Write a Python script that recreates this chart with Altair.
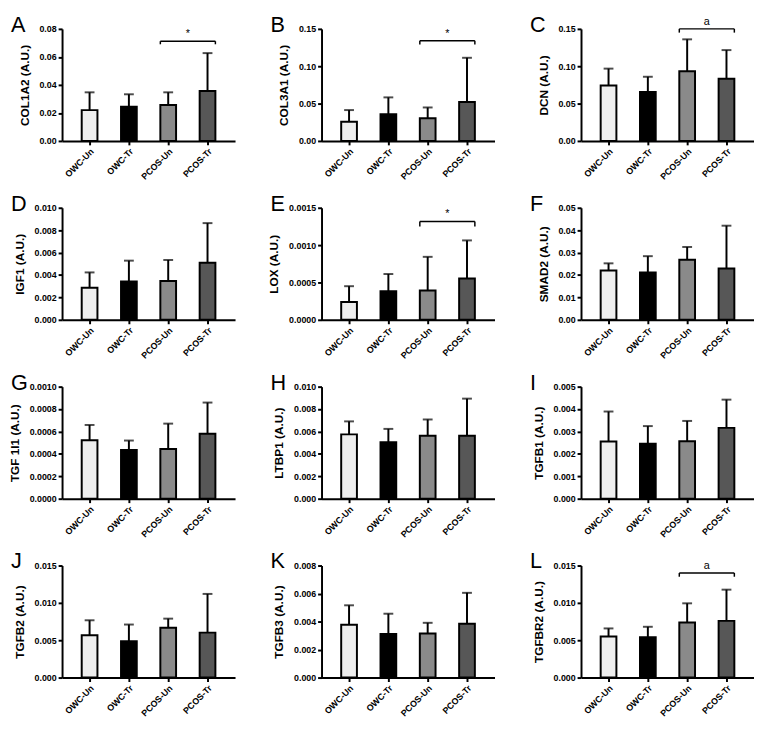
import altair as alt
import pandas as pd

groups = ["OWC-Un", "OWC-Tr", "PCOS-Un", "PCOS-Tr"]
fills = ["#eeeeee", "#000000", "#8a8a8a", "#575757"]

letters = ["A", "B", "C", "D", "E", "F", "G", "H", "I", "J", "K", "L"]
genes = ["COL1A2", "COL3A1", "DCN", "IGF1", "LOX", "SMAD2",
         "TGF 1I1", "LTBP1", "TGFB1", "TGFB2", "TGFB3", "TGFBR2"]

# mean values (bar heights) and upper error bar ends
col1a2_mean = [0.0220, 0.0245, 0.0257, 0.0356]
col1a2_upper = [0.0347, 0.0333, 0.0347, 0.0627]
col3a1_mean = [0.0257, 0.0357, 0.0304, 0.0522]
col3a1_upper = [0.0413, 0.0583, 0.0448, 0.1113]
dcn_mean = [0.0741, 0.0654, 0.0933, 0.0833]
dcn_upper = [0.0968, 0.0859, 0.1360, 0.1216]
igf1_mean = [0.00286, 0.00341, 0.00347, 0.00510]
igf1_upper = [0.00423, 0.00528, 0.00534, 0.00863]
lox_mean = [0.000238, 0.000384, 0.000393, 0.000552]
lox_upper = [0.000450, 0.000613, 0.000843, 0.001063]
smad2_mean = [0.0220, 0.0211, 0.0268, 0.0229]
smad2_upper = [0.0252, 0.0284, 0.0325, 0.0420]
tgf1i1_mean = [0.000522, 0.000435, 0.000443, 0.000580]
tgf1i1_upper = [0.000658, 0.000519, 0.000670, 0.000858]
ltbp1_mean = [0.00574, 0.00504, 0.00562, 0.00562]
ltbp1_upper = [0.00690, 0.00623, 0.00707, 0.00893]
tgfb1_mean = [0.00255, 0.00245, 0.00256, 0.00316]
tgfb1_upper = [0.00389, 0.00324, 0.00347, 0.00442]
tgfb2_mean = [0.00567, 0.00488, 0.00667, 0.00602]
tgfb2_upper = [0.00767, 0.00710, 0.00789, 0.01120]
tgfb3_mean = [0.00377, 0.00312, 0.00314, 0.00384]
tgfb3_upper = [0.00516, 0.00456, 0.00391, 0.00605]
tgfbr2_mean = [0.00549, 0.00541, 0.00737, 0.00759]
tgfbr2_upper = [0.00658, 0.00680, 0.00994, 0.01177]

means = [col1a2_mean, col3a1_mean, dcn_mean, igf1_mean, lox_mean, smad2_mean,
         tgf1i1_mean, ltbp1_mean, tgfb1_mean, tgfb2_mean, tgfb3_mean, tgfbr2_mean]
uppers = [col1a2_upper, col3a1_upper, dcn_upper, igf1_upper, lox_upper, smad2_upper,
          tgf1i1_upper, ltbp1_upper, tgfb1_upper, tgfb2_upper, tgfb3_upper, tgfbr2_upper]

y_max = [0.08, 0.15, 0.15, 0.010, 0.0015, 0.05, 0.0010, 0.010, 0.005, 0.015, 0.008, 0.015]
y_step = [0.02, 0.05, 0.05, 0.002, 0.0005, 0.01, 0.0002, 0.002, 0.001, 0.005, 0.002, 0.005]
y_fmt = [".2f", ".2f", ".2f", ".3f", ".4f", ".2f", ".4f", ".3f", ".3f", ".3f", ".3f", ".3f"]

# significance brackets
bracket_panels = [0, 1, 2, 4, 11]
bracket_top = [0.0712, 0.134, 0.150, 0.001315, 0.0140]
bracket_drop = [0.0690, 0.129, 0.145, 0.00125, 0.0135]
bracket_label = ["*", "*", "a", "*", "a"]
bracket_label_y = [0.0730, 0.137, 0.1525, 0.00135, 0.0143]

W, H = 176, 114


def panel(i):
    df = pd.DataFrame({"group": groups, "mean": means[i], "upper": uppers[i]})
    n = int(round(y_max[i] / y_step[i]))
    ticks = [round(k * y_step[i], 6) for k in range(n + 1)]
    xscale = alt.Scale(domain=groups, paddingInner=0.6, paddingOuter=0.5)
    xaxis = alt.Axis(title=None, labelAngle=-45)
    yscale = alt.Scale(domain=[0, y_max[i]], nice=False, zero=True)
    yaxis = alt.Axis(title=f"{genes[i]} (A.U.)", values=ticks, format=y_fmt[i],
                     labelOverlap=False)

    def X(field="group:N", **kw):
        return alt.X(field, sort=groups, scale=xscale, axis=xaxis, **kw)

    def Y(field):
        return alt.Y(field, scale=yscale, axis=yaxis)

    bars = alt.Chart(df).mark_bar(stroke="black", strokeWidth=2).encode(
        x=X(), y=Y("mean:Q"),
        fill=alt.Fill("group:N", scale=alt.Scale(domain=groups, range=fills), legend=None),
    )
    err = alt.Chart(df).mark_rule(color="black", strokeWidth=2).encode(
        x=X(), y=Y("mean:Q"), y2="upper:Q")
    cap = alt.Chart(df).mark_tick(color="black", thickness=2, size=10).encode(
        x=X(), y=Y("upper:Q"))
    letter = alt.Chart(pd.DataFrame({"t": [letters[i]]})).mark_text(
        align="left", baseline="top", fontSize=22, font="Liberation Sans", color="black"
    ).encode(x=alt.value(-52), y=alt.value(-14), text="t:N")
    layers = [err, cap, bars, letter]
    if i in bracket_panels:
        j = bracket_panels.index(i)
        bd = pd.DataFrame({"g1": ["PCOS-Un"], "g2": ["PCOS-Tr"],
                           "top": [bracket_top[j]], "drop": [bracket_drop[j]],
                           "lab": [bracket_label[j]], "ly": [bracket_label_y[j]]})
        hline = alt.Chart(bd).mark_rule(color="black", strokeWidth=1.5).encode(
            x=X("g1:N", bandPosition=0), x2=alt.X2("g2:N", bandPosition=1), y=Y("top:Q"))
        d1 = alt.Chart(bd).mark_rule(color="black", strokeWidth=1.5).encode(
            x=X("g1:N", bandPosition=0), y=Y("top:Q"), y2="drop:Q")
        d2 = alt.Chart(bd).mark_rule(color="black", strokeWidth=1.5).encode(
            x=X("g2:N", bandPosition=1), y=Y("top:Q"), y2="drop:Q")
        lab = alt.Chart(bd).mark_text(baseline="bottom", fontSize=11, dx=-12,
                                      font="Liberation Sans", color="black").encode(
            x=X("g2:N", bandPosition=0), y=Y("ly:Q"), text="lab:N")
        layers += [hline, d1, d2, lab]
    return alt.layer(*layers).properties(width=W, height=H)


panels = [panel(i) for i in range(12)]

chart = alt.concat(*panels, columns=3, spacing={"row": 68, "column": 88},
                   bounds="flush").properties(padding=0).configure_view(
    stroke=None
).configure_axis(
    domainColor="black", domainWidth=2, tickColor="black", tickWidth=2, tickSize=4,
    labelFont="Liberation Sans", labelFontWeight="bold", labelFontSize=9,
    labelColor="black", titleFont="Liberation Sans", titleFontWeight="bold",
    titleFontSize=12, titleColor="black", grid=False, labelPadding=2, titlePadding=8
)

chart.save("out.html", embed_options={"renderer": "svg", "actions": False})
